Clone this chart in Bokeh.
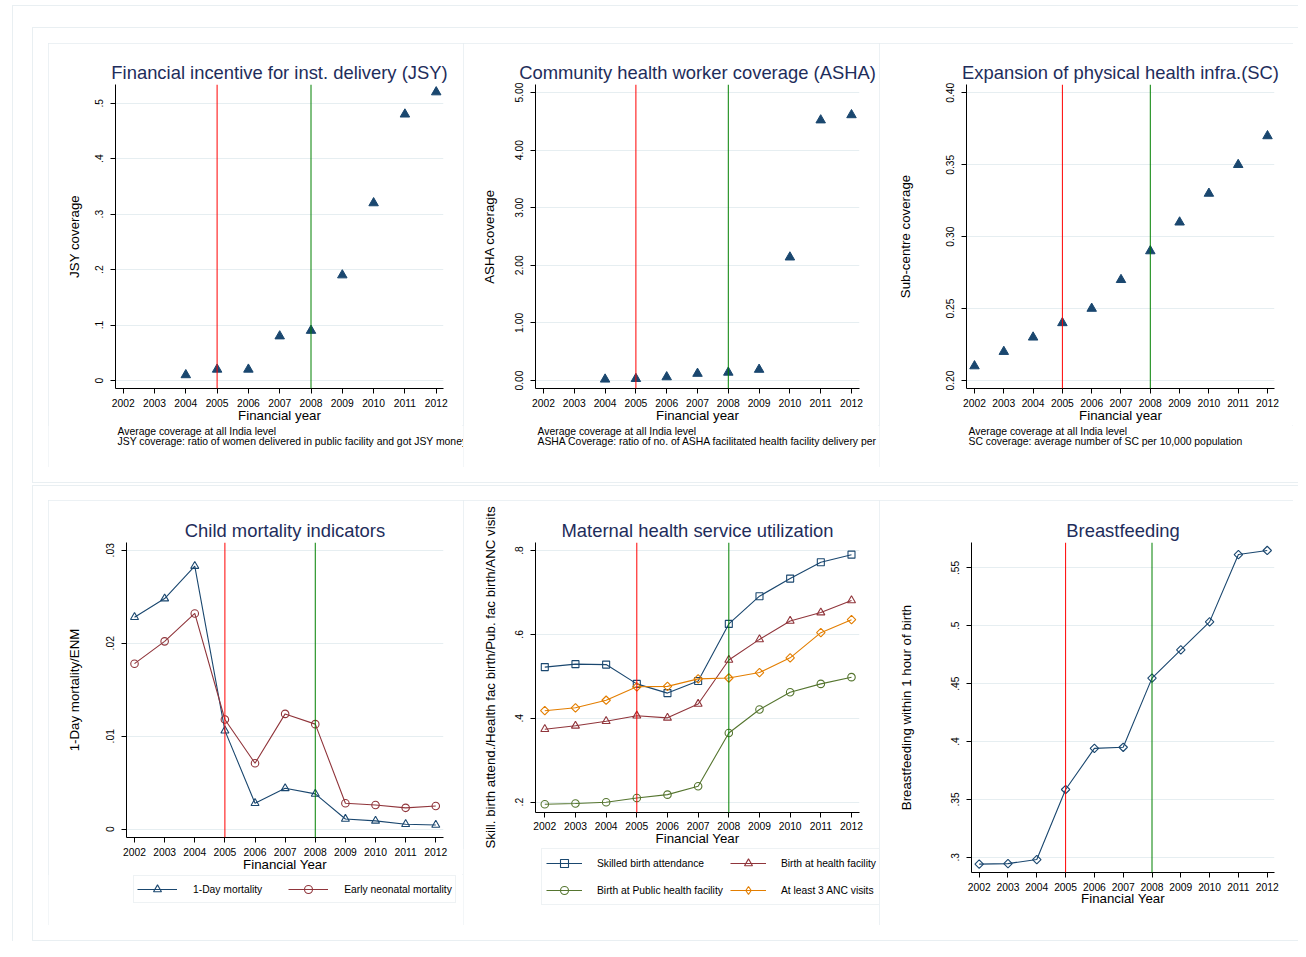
import numpy as np
from bokeh.plotting import figure
from bokeh.models import Span, Label, Legend, LegendItem, FixedTicker, Range1d, Spacer
from bokeh.layouts import row, column
from bokeh.embed import file_html
from bokeh.resources import INLINE

# ---------------- data ----------------
years = [2002, 2003, 2004, 2005, 2006, 2007, 2008, 2009, 2010, 2011, 2012]
jsy_years = [2004, 2005, 2006, 2007, 2008, 2009, 2010, 2011, 2012]
jsy_coverage = [0.01, 0.02, 0.02, 0.08, 0.09, 0.19, 0.32, 0.48, 0.52]
asha_years = [2004, 2005, 2006, 2007, 2008, 2009, 2010, 2011, 2012]
asha_coverage = [0.02, 0.03, 0.06, 0.12, 0.14, 0.19, 2.14, 4.52, 4.61]
sc_coverage = [0.21, 0.22, 0.23, 0.24, 0.25, 0.27, 0.29, 0.31, 0.33, 0.35, 0.37]
one_day_mortality = [0.0228, 0.0248, 0.0283, 0.0106, 0.0028, 0.0044, 0.0038, 0.0011, 0.0009, 0.00054, 0.00046]
early_neonatal_mortality = [0.0178, 0.0202, 0.0232, 0.0118, 0.0071, 0.0124, 0.0113, 0.0028, 0.0026, 0.0023, 0.0025]
skilled_birth = [0.522, 0.529, 0.528, 0.482, 0.460, 0.489, 0.625, 0.691, 0.733, 0.772, 0.790]
birth_health_fac = [0.374, 0.382, 0.393, 0.406, 0.401, 0.434, 0.539, 0.588, 0.632, 0.652, 0.681]
birth_public_fac = [0.195, 0.197, 0.200, 0.210, 0.218, 0.238, 0.365, 0.421, 0.462, 0.482, 0.498]
anc3_visits = [0.418, 0.425, 0.443, 0.475, 0.476, 0.494, 0.496, 0.509, 0.544, 0.604, 0.635]
breastfeeding = [0.294, 0.2945, 0.298, 0.3585, 0.394, 0.395, 0.4547, 0.4792, 0.5033, 0.5615, 0.565]

policy_year_red = 2005
policy_year_green = 2008

jsy_ticks = [0.0, 0.1, 0.2, 0.3, 0.4, 0.5]
jsy_tick_labels = ["0", ".1", ".2", ".3", ".4", ".5"]
asha_ticks = [0.0, 1.0, 2.0, 3.0, 4.0, 5.0]
asha_tick_labels = ["0.00", "1.00", "2.00", "3.00", "4.00", "5.00"]
sc_ticks = [0.20, 0.25, 0.30, 0.35, 0.40]
sc_tick_labels = ["0.20", "0.25", "0.30", "0.35", "0.40"]
mort_ticks = [0.0, 0.01, 0.02, 0.03]
mort_tick_labels = ["0", ".01", ".02", ".03"]
mat_ticks = [0.2, 0.4, 0.6, 0.8]
mat_tick_labels = [".2", ".4", ".6", ".8"]
bf_ticks = [0.3, 0.35, 0.4, 0.45, 0.5, 0.55]
bf_tick_labels = [".3", ".35", ".4", ".45", ".5", ".55"]

mort_labels = ["1-Day mortality", "Early neonatal mortality"]
mat_labels = ["Skilled birth attendance", "Birth at health facility",
              "Birth at Public health facility", "At least 3 ANC visits"]

jsy_notes = ["Average coverage at all India level",
             "JSY coverage: ratio of women delivered in public facility and got JSY money"]
asha_notes = ["Average coverage at all India level",
              "ASHA Coverage: ratio of no. of ASHA facilitated health facility delivery per"]
sc_notes = ["Average coverage at all India level",
            "SC coverage: average number of SC per 10,000 population"]

# ---------------- style ----------------
FONT = "Liberation Sans"
NAVY = "#1a476f"
MAROON = "#90353b"
FGREEN = "#55752f"
DKORANGE = "#e37e00"
TITLE_C = "#1e2d5b"
GRID_C = "#e6eef1"
FRAME_C = "#e6edf0"
FR = "#e9eff2"
TICK_FS = "10.3px"
LAB_FS = "13.3px"
NOTE_FS = "10.4px"
TITLE_FS = "18.4px"
BOX_STYLE = {"outline": "1px solid " + FRAME_C, "outline-offset": "-1px"}


def panel(w, h, bl, br, bt, bb, xr, yr, title, xlabel, ylabel, yticks, ylabels,
          ylab_standoff, xlab_standoff=-2, ytick_standoff=7, xtick_standoff=5, styles=None):
    p = figure(width=w, height=h, x_range=Range1d(*xr), y_range=Range1d(*yr),
               output_backend="svg", toolbar_location=None, frame_align=False,
               min_border_left=bl, min_border_right=br, min_border_top=bt, min_border_bottom=bb,
               background_fill_color="white", border_fill_color="white",
               outline_line_color=None, styles=styles or {})
    p.title.text = title
    p.title.align = "center"
    p.title.text_font = FONT
    p.title.text_font_size = TITLE_FS
    p.title.text_font_style = "normal"
    p.title.text_color = TITLE_C
    p.title.standoff = 3

    p.xaxis.ticker = FixedTicker(ticks=years)
    p.yaxis.ticker = FixedTicker(ticks=yticks)
    p.yaxis.major_label_overrides = {t: l for t, l in zip(yticks, ylabels)}
    p.yaxis.major_label_orientation = "vertical"
    for ax in (p.xaxis, p.yaxis):
        ax.axis_line_color = "black"
        ax.axis_line_width = 1
        ax.major_tick_line_color = "black"
        ax.major_tick_out = 5
        ax.major_tick_in = 0
        ax.minor_tick_line_color = None
        ax.major_label_text_font = FONT
        ax.major_label_text_font_size = TICK_FS
        ax.major_label_text_color = "black"
        ax.axis_label_text_font = FONT
        ax.axis_label_text_font_size = LAB_FS
        ax.axis_label_text_font_style = "normal"
        ax.axis_label_text_color = "black"
    p.xaxis.axis_label = xlabel
    p.yaxis.axis_label = ylabel
    p.xaxis.major_label_standoff = xtick_standoff
    p.yaxis.major_label_standoff = ytick_standoff
    p.xaxis.axis_label_standoff = xlab_standoff
    p.yaxis.axis_label_standoff = ylab_standoff

    p.xgrid.grid_line_color = None
    p.ygrid.ticker = FixedTicker(ticks=yticks)
    p.ygrid.grid_line_color = GRID_C
    p.ygrid.grid_line_width = 1

    p.add_layout(Span(location=policy_year_red, dimension="height", line_color="#ff0000", line_width=1))
    p.add_layout(Span(location=policy_year_green, dimension="height", line_color="#008000", line_width=1))
    return p


def blank(w, h):
    f = figure(width=w, height=h, x_range=Range1d(0, w), y_range=Range1d(0, h),
               x_axis_type=None, y_axis_type=None, title=None, frame_align=False,
               output_backend="svg", toolbar_location=None, min_border=0,
               outline_line_color=None, background_fill_color="white", border_fill_color="white")
    f.xgrid.visible = False
    f.ygrid.visible = False
    return f


def notes_fig(w, h, x, lines):
    f = blank(w, h)
    for i, t in enumerate(lines):
        f.add_layout(Label(x=x, y=h - 6 - 10.3 * i, text=t,
                           text_font=FONT, text_font_size=NOTE_FS, text_color="black",
                           text_align="left", text_baseline="middle"))
    return f


def legend_fig(w, h, series, styles, labels, **legend_kw):
    # the legend's own figure; its renderers hold the real series but fall outside
    # this figure's ranges, so only their legend glyphs show
    f = blank(w, h)
    items = []
    for vals, (col, mk, sz, ang), lab in zip(series, styles, labels):
        if ang:  # legend glyphs are drawn unrotated: use the diamond marker there
            mk = "diamond"
        lr = f.line(years, vals, line_color=col, line_width=1.1)
        sr = f.scatter(years, vals, marker=mk, size=sz, fill_color=None,
                       line_color=col, line_width=1.1)
        items.append(LegendItem(label=lab, renderers=[lr, sr]))
    leg = Legend(items=items, orientation="horizontal", margin=0,
                 label_text_font=FONT, label_text_font_size=TICK_FS, label_text_color="black",
                 border_line_color="#dde5e9", border_line_width=1, background_fill_color="white",
                 **legend_kw)
    f.add_layout(leg)
    return f


# ---------- top row ----------
p1 = panel(415, 382, 67, 20, 41, 37, (2001.754, 2012.233), (-0.0144, 0.5337),
           "Financial incentive for inst. delivery (JSY)", "Financial year", "JSY coverage",
           jsy_ticks, jsy_tick_labels, ylab_standoff=11)
p1.scatter(jsy_years, jsy_coverage, marker="triangle", size=9.5, fill_color=NAVY, line_color=NAVY)
c1 = column(p1, notes_fig(415, 42, 69, jsy_notes), styles=BOX_STYLE)

p2 = panel(416, 382, 72, 20, 41, 37, (2001.74, 2012.26), (-0.139, 5.139),
           "Community health worker coverage (ASHA)", "Financial year", "ASHA coverage",
           asha_ticks, asha_tick_labels, ylab_standoff=16)
p2.scatter(asha_years, asha_coverage, marker="triangle", size=9.5, fill_color=NAVY, line_color=NAVY)
c2 = column(p2, notes_fig(416, 42, 74, asha_notes), styles=BOX_STYLE)

p3 = panel(414, 382, 87, 19, 41, 37, (2001.727, 2012.239), (0.1944, 0.4058),
           "Expansion of physical health infra.(SC)", "Financial year", "Sub-centre coverage",
           sc_ticks, sc_tick_labels, ylab_standoff=31)
p3.scatter(years, sc_coverage, marker="triangle", size=9.5, fill_color=NAVY, line_color=NAVY)
c3 = column(p3, notes_fig(414, 42, 89, sc_notes), styles=BOX_STYLE)

# ---------- bottom row ----------
p4 = panel(415, 374, 78, 20, 42, 36, (2001.734, 2012.256), (-0.00089, 0.03083),
           "Child mortality indicators", "Financial Year", "1-Day mortality/ENM",
           mort_ticks, mort_tick_labels, ylab_standoff=22)
mort_series = [one_day_mortality, early_neonatal_mortality]
mort_styles = [(NAVY, "triangle", 8, 0.0), (MAROON, "circle", 7.5, 0.0)]
for vals, (col, mk, sz, ang) in zip(mort_series, mort_styles):
    p4.line(years, vals, line_color=col, line_width=1.1)
    p4.scatter(years, vals, marker=mk, size=sz, angle=ang, fill_color=None, line_color=col, line_width=1.1)
lf4 = legend_fig(415, 51, mort_series, mort_styles, mort_labels,
                 location=(85, 22), glyph_width=40, glyph_height=20, label_height=20,
                 label_standoff=16, spacing=26, padding=3)
c4 = column(p4, lf4, styles=BOX_STYLE)

p5 = panel(416, 348, 72, 20, 42, 36, (2001.697, 2012.261), (0.1754, 0.819),
           "Maternal health service utilization", "Financial Year",
           "Skill. birth attend./Health fac birth/Pub. fac birth/ANC visits",
           mat_ticks, mat_tick_labels, ylab_standoff=15, xtick_standoff=4)
mat_series = [skilled_birth, birth_health_fac, birth_public_fac, anc3_visits]
mat_styles = [(NAVY, "square", 7, 0.0), (MAROON, "triangle", 8, 0.0),
              (FGREEN, "circle", 7.5, 0.0), (DKORANGE, "square", 6, np.pi / 4)]
for vals, (col, mk, sz, ang) in zip(mat_series, mat_styles):
    p5.line(years, vals, line_color=col, line_width=1.1)
    p5.scatter(years, vals, marker=mk, size=sz, angle=ang, fill_color=None, line_color=col, line_width=1.1)
lf5 = legend_fig(416, 77, mat_series, mat_styles, mat_labels,
                 location=(78, 20), ncols=2, glyph_width=36, glyph_height=20, label_height=20,
                 label_standoff=15, spacing=7, padding=4)
c5 = column(p5, lf5, styles=BOX_STYLE)

p6 = panel(414, 425, 92, 19, 42, 53, (2001.733, 2012.253), (0.2868, 0.5719),
           "Breastfeeding", "Financial Year", "Breastfeeding within 1 hour of birth",
           bf_ticks, bf_tick_labels, ylab_standoff=35, xlab_standoff=-3, styles=BOX_STYLE)
p6.line(years, breastfeeding, line_color=NAVY, line_width=1.1)
p6.scatter(years, breastfeeding, marker="square", size=6, angle=np.pi / 4, fill_color=None,
           line_color=NAVY, line_width=1.1)

# ---------- layout with faint frames ----------
block_style = {"box-shadow": "inset 1px 1px 0 0 %s, inset 0 -1px 0 0 %s" % (FR, FR)}
top_block = column(Spacer(height=16), row(Spacer(width=16), c1, c2, c3), Spacer(height=16),
                   width=1266, styles=block_style)
bottom_block = column(Spacer(height=15), row(Spacer(width=16), c4, c5, p6), Spacer(height=16),
                      width=1266, styles=block_style)
root = column(Spacer(height=27), row(Spacer(width=32), top_block), Spacer(height=2),
              row(Spacer(width=32), bottom_block),
              styles={"box-shadow": "inset 12px 5px 0 0 #ffffff, inset 13px 6px 0 0 %s" % FR})

open("out.html", "w").write(file_html(root, INLINE))
